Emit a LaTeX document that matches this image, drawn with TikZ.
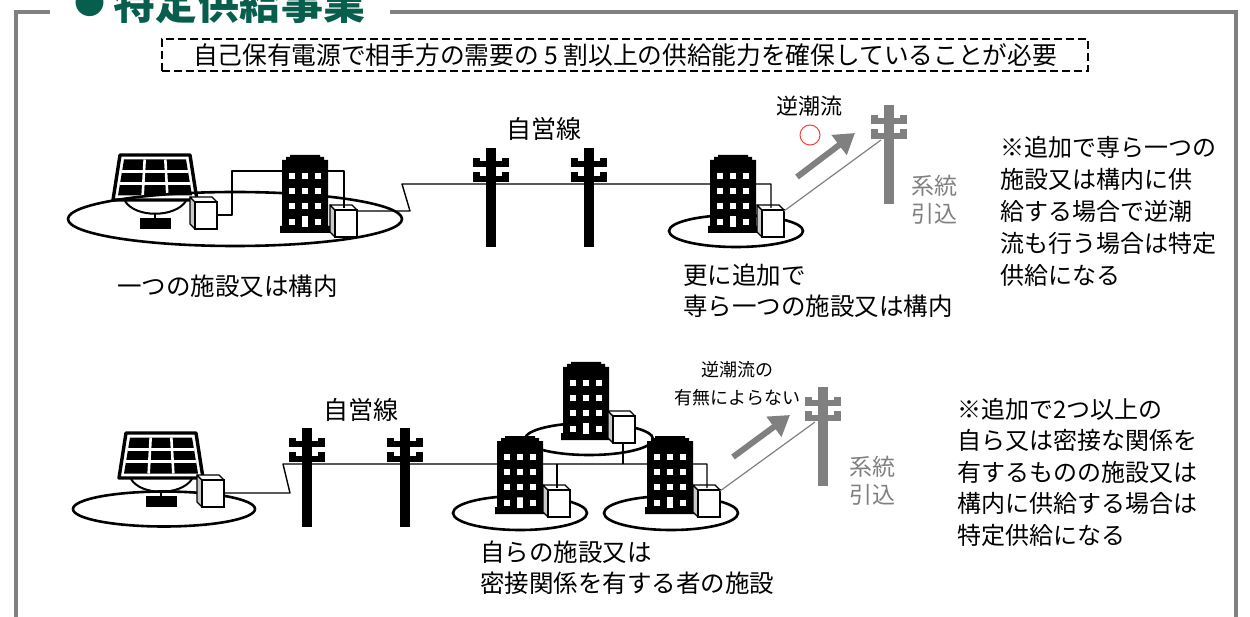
\documentclass[tikz,border=0pt]{standalone}
\usepackage{fontspec}
\setmainfont{Noto Sans CJK JP}
\usetikzlibrary{arrows.meta}

\definecolor{framegray}{RGB}{128,128,128}
\definecolor{titlegreen}{RGB}{8,94,76}
\definecolor{gridgray}{RGB}{128,128,128}
\definecolor{facegray}{RGB}{200,200,200}
\definecolor{okred}{RGB}{255,60,60}

\newcommand{\fsz}[2]{\fontsize{#1}{#2}\selectfont}

\tikzset{
  frame/.style={draw=framegray, line width=4pt},
  ground/.style={draw=black, line width=2.6pt},
  wire/.style={draw=black, line width=1.4pt, line join=round},
  feedline/.style={draw=gridgray, line width=1.2pt},
  flowarrow/.style={draw=gridgray, line width=6pt, -{Triangle[length=20pt,width=24pt]}},
  lbl/.style={inner sep=0pt, align=left, font=\fsz{24.5}{31}},
  % solar panel on its mount, origin = top-left corner of the panel
  pics/panel/.style={code={
    \filldraw[fill=white, draw=black, line width=3.4pt, line join=round]
      (0,0) -- (70,0) -- (77,45) -- (-7,45) -- cycle;
    \fill[black] (4,4.5) -- (66,4.5) -- (72,40.5) -- (-2,40.5) -- cycle;
    \draw[white, line width=2.6pt]
      (24.67,4.5) -- (22.67,40.5) (45.33,4.5) -- (47.33,40.5)
      (2,16.5) -- (68,16.5) (0,28.5) -- (70,28.5);
    \draw[black, line width=2pt] (5,46) .. controls (15,63) and (55,63) .. (66,46);
    \draw[black, line width=2pt] (35,58) -- (35,64);
    \fill[black] (20,63) rectangle (51,74);
  }},
  % power conditioner cabinet, origin = top-left corner
  pics/pcs/.style={code={
    \filldraw[fill=facegray, draw=black, line width=1.3pt, line join=round]
      (0,0) -- (5,5) -- (5,32) -- (0,27) -- cycle;
    \filldraw[fill=white, draw=black, line width=1.3pt, line join=round]
      (0,0) -- (22,0) -- (27,5) -- (5,5) -- cycle;
    \filldraw[fill=white, draw=black, line width=1.3pt] (5,5) rectangle (27,32);
    \coordinate (-n) at (14,3);
    \coordinate (-e) at (27,18);
    \coordinate (-ne) at (27,6);
    \coordinate (-s) at (15,32);
  }},
  % office building, origin = top-left of the body
  pics/bldg/.style={code={
    \fill[black] (8,0) -- (38,0) -- (38,2) -- (42,2) -- (42,5) -- (46,5)
      -- (46,71) -- (48,71) -- (48,78) -- (-2,78) -- (-2,71) -- (0,71)
      -- (0,5) -- (4,5) -- (4,2) -- (8,2) -- cycle;
    \foreach \yy in {18,33,48,64} {
      \fill[white] (7,\yy) rectangle ++(6,6);
      \fill[white] (33,\yy) rectangle ++(6,6);
    }
    \foreach \yy in {18,33,48} \fill[white] (20,\yy) rectangle ++(6,6);
    \fill[white] (20,61) rectangle ++(6,11);
  }},
  % utility pole, origin = top of the pole
  pics/pole/.style={code={
    \fill[#1] (-5,0) rectangle (5,99);
    \fill[#1] (-18,13) rectangle (18,19);
    \fill[#1] (-18,10) rectangle (-11,19);
    \fill[#1] (11,10) rectangle (18,19);
    \fill[#1] (-18,28) rectangle (18,34);
    \fill[#1] (-18,24) rectangle (-11,34);
    \fill[#1] (11,24) rectangle (18,34);
    \coordinate (-l) at (-8,35);
  }},
}

\begin{document}
\begin{tikzpicture}[x=1pt, y=-1pt]
\path[use as bounding box] (0,0) rectangle (1250,617);
\clip (0,0) rectangle (1250,617);

% ---- outer frame and heading ----
\draw[frame] (50,12) -- (16,12) -- (16,625);
\draw[frame] (390,12) -- (1236,12) -- (1236,625);
\node[anchor=base west, inner sep=0pt, text=titlegreen, font=\fsz{42}{42}\bfseries]
  (title) at (74,20) {\raisebox{5pt}{\fsz{31}{31}●}\hspace{8pt}特定供給事業};

\node[draw, dash pattern=on 8pt off 4pt, line width=1.3pt, minimum width=926pt,
  minimum height=32pt, inner sep=0pt, font=\fsz{24.7}{25}]
  (req) at (625,55) {自己保有電源で相手方の需要の 5 割以上の供給能力を確保していることが必要};

% ---- upper case: one site with an extra site and reverse flow ----
\pic at (120,155) {panel};
\draw[ground] (235,219) ellipse [x radius=167pt, y radius=27pt];
\draw[ground] (736,231) ellipse [x radius=67pt, y radius=16pt];
\pic (b1) at (190,197) {pcs};
\pic at (282,155) {bldg};
\pic (b2) at (330,205) {pcs};
\pic at (710,155) {bldg};
\pic (b3) at (757,205) {pcs};
\pic (p1) at (491,148) {pole=black};
\pic (p2) at (589,148) {pole=black};
\pic (g1) at (889,105) {pole=gridgray};

\draw[wire] (b1-e) -- ++(15,0) -- ++(0,-44) -| (b2-n);
\draw[wire] (b2-ne) -- (410,211) -- (402,184) -| (b3-n);
\draw[feedline] (b3-ne) -- (g1-l);
\coordinate (r1s) at (797,177);
\coordinate (r1e) at (855,133);
\draw[flowarrow] (r1s) -- (r1e);
\draw[okred, line width=1pt] (810,135) circle [radius=10pt];

\node[inner sep=0pt, font=\fsz{25}{25}] (line1) at (544,129) {自営線};
\node[inner sep=0pt, font=\fsz{22}{22}] (rev1) at (809,106) {逆潮流};
\node[inner sep=0pt, align=center, text=gridgray, font=\fsz{23}{28}] (grid1) at (934,200) {系統\\引込};
\node[lbl, anchor=west] (site1) at (117,286) {一つの施設又は構内};
\node[lbl, anchor=west] (site2) at (683,291) {更に追加で\\専ら一つの施設又は構内};
\node[lbl, anchor=west, font=\fsz{24}{32}] (note1) at (1000,211)
  {※追加で専ら一つの\\施設又は構内に供\\給する場合で逆潮\\流も行う場合は特定\\供給になる};

% ---- lower case: several related sites ----
\pic at (126,433) {panel};
\draw[ground] (164,509) ellipse [x radius=91pt, y radius=17.5pt];
\pic (b4) at (197,475) {pcs};
\pic (p3) at (307,428) {pole=black};
\pic (p4) at (405,428) {pole=black};

\draw[ground] (589,439) ellipse [x radius=64pt, y radius=16pt];
\pic at (563,362) {bldg};
\pic (b5) at (608,411) {pcs};
\draw[ground] (671,513) ellipse [x radius=67pt, y radius=17pt];
\pic at (497,436) {bldg};
\draw[ground] (520,513) ellipse [x radius=67pt, y radius=17pt];
\pic at (647,436) {bldg};
\pic (b6) at (543,485) {pcs};
\pic (b7) at (693,485) {pcs};
\pic (g2) at (823,387) {pole=gridgray};

\draw[wire] (b4-e) -- ++(66,0) -- (283,464) -| (b7-n);
\draw[wire] (b5-s) -- ++(0,21);
\draw[wire] (b6-n) -- ++(0,-24);
\draw[feedline] (b7-ne) -- (g2-l);
\coordinate (r2s) at (733,457);
\coordinate (r2e) at (790,415);
\draw[flowarrow] (r2s) -- (r2e);

\node[inner sep=0pt, font=\fsz{25}{25}] (line2) at (361,410) {自営線};
\node[inner sep=0pt, align=center, font=\fsz{18}{28}] (rev2) at (737,384) {逆潮流の\\有無によらない};
\node[inner sep=0pt, align=center, text=gridgray, font=\fsz{23}{28}] (grid2) at (872,481) {系統\\引込};
\node[lbl, anchor=west] (site3) at (480,568) {自らの施設又は\\密接関係を有する者の施設};
\node[lbl, anchor=west, font=\fsz{24}{31.5}] (note2) at (957,472)
  {※追加で2つ以上の\\自ら又は密接な関係を\\有するものの施設又は\\構内に供給する場合は\\特定供給になる};
\end{tikzpicture}
\end{document}
